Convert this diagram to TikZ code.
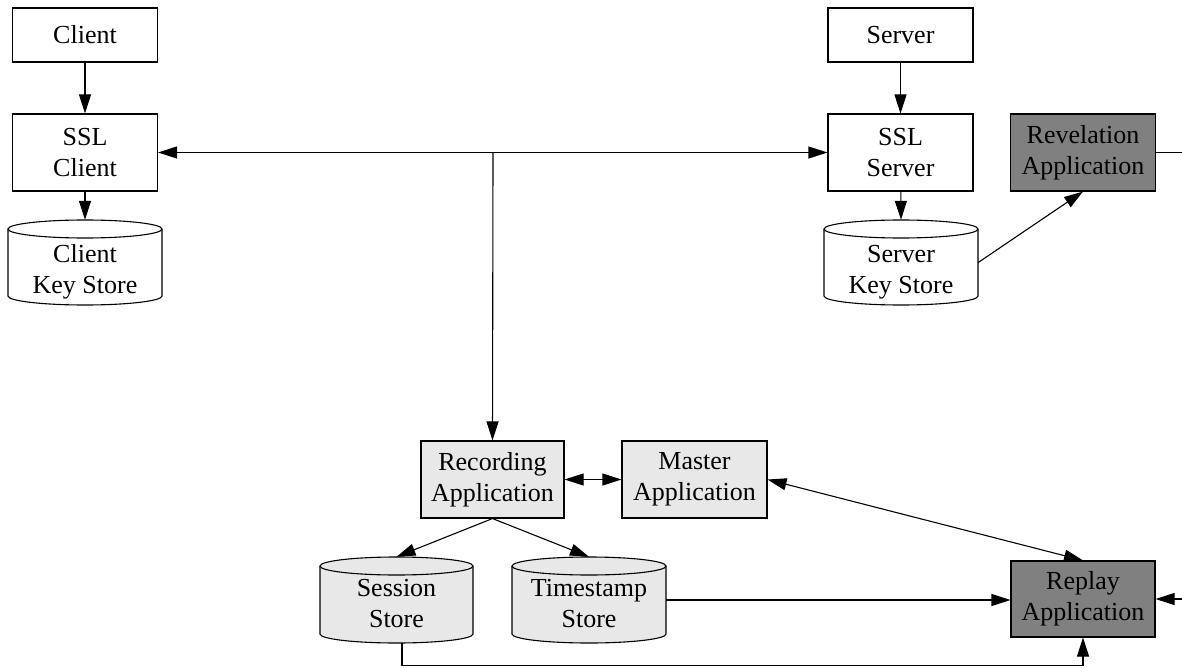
\documentclass[tikz,border=0pt]{standalone}
\usepackage{fontspec}
\setmainfont{Liberation Serif}
\usetikzlibrary{arrows.meta,calc}
\definecolor{lightfill}{RGB}{232,232,232}
\definecolor{darkfill}{RGB}{128,128,128}

% Cylinder store: #1 name, #2 centre x, #3 top y, #4 bottom y, #5 half width,
% #6 fill, #7 y of the text centre, #8 text (y values measured downwards)
\newcommand\storedrum[8]{%
  \draw[line width=1.1pt, fill=#6]
    (#2-#5,-#3-9) -- (#2-#5,-#4+9)
    arc[start angle=180, end angle=360, x radius=#5pt, y radius=9pt]
    -- (#2+#5,-#3-9)
    arc[start angle=0, end angle=180, x radius=#5pt, y radius=9pt] -- cycle;
  \draw[line width=1.1pt] (#2-#5,-#3-9)
    arc[start angle=180, end angle=360, x radius=#5pt, y radius=9pt];
  \node[minimum width=2*#5pt, minimum height=#4pt-#3pt] (#1) at (#2,{-(#3+#4)/2}) {};
  \node (#1-text) at (#2,-#7) {#8};
}

\begin{document}
\begin{tikzpicture}[x=1pt,y=1pt,
  every node/.style={font=\fontsize{26}{31}\selectfont, align=center, inner sep=0pt},
  box/.style={draw, line width=1.1pt, minimum width=145pt, minimum height=77pt},
  smallbox/.style={box, minimum height=54pt},
  light/.style={fill=lightfill},
  dark/.style={fill=darkfill},
  tip/.tip={Triangle[length=19pt,width=12pt]},
  conn/.style={line width=1.1pt, -tip},
  both/.style={line width=1.1pt, tip-tip},
  plain/.style={line width=1.1pt}]
\useasboundingbox (0,0) rectangle (1182,-668);

% boxes
\node[smallbox] (client) at (85,-35) {Client};
\node[box] (sslc) at (85,-152.5) {SSL\\Client};
\node[smallbox] (server) at (900.5,-35) {Server};
\node[box] (ssls) at (900.5,-152.5) {SSL\\Server};
\node[box, dark] (rev) at (1083,-152.5) {Revelation\\Application};
\node[box, light, minimum width=143pt] (rec) at (492.5,-479.5) {Recording\\Application};
\node[box, light] (master) at (694.5,-479.5) {Master\\Application};
\node[box, dark, minimum width=144pt, minimum height=76pt] (replay) at (1083,-599) {Replay\\Application};

% stores
\storedrum{cks}{85}{220}{305}{77}{white}{272}{Client\\Key Store}
\storedrum{sks}{901}{220}{305}{77}{white}{272}{Server\\Key Store}
\storedrum{sess}{396.5}{557}{643}{76.5}{lightfill}{603.5}{Session\\Store}
\storedrum{ts}{589}{557}{643}{77}{lightfill}{603.5}{Timestamp\\Store}

% connectors
\coordinate (bus) at (493,-152.5);
\coordinate (revout) at (1182,-152.5);
\coordinate (replayin) at (1182,-599);

\draw[conn] (client) -- (sslc);
\draw[conn] (server) -- (ssls);
\draw[conn] (sslc) -- (cks.north);
\draw[conn] (ssls) -- (sks.north);
\draw[conn] (bus) -- (sslc.east);
\draw[conn] (bus) -- (ssls.west);
\draw[conn] (bus) -- (rec.north);
\draw[both] (rec) -- (master);
\draw[both] (master.east) -- (replay.north);
\draw[conn] (rec.south) -- (sess.north);
\draw[conn] (rec.south) -- (ts.north);
\draw[conn] (sks.east) -- (rev.south);
\draw[conn] (ts.east) -- (ts.east -| replay.west);
\draw[conn] ([xshift=5.5pt]sess.south) -- ++(0,-22) -| (replay.south);
\draw[plain] (rev.east) -- (revout);
\draw[conn] (replayin) -- (replay.east);
\end{tikzpicture}
\end{document}
